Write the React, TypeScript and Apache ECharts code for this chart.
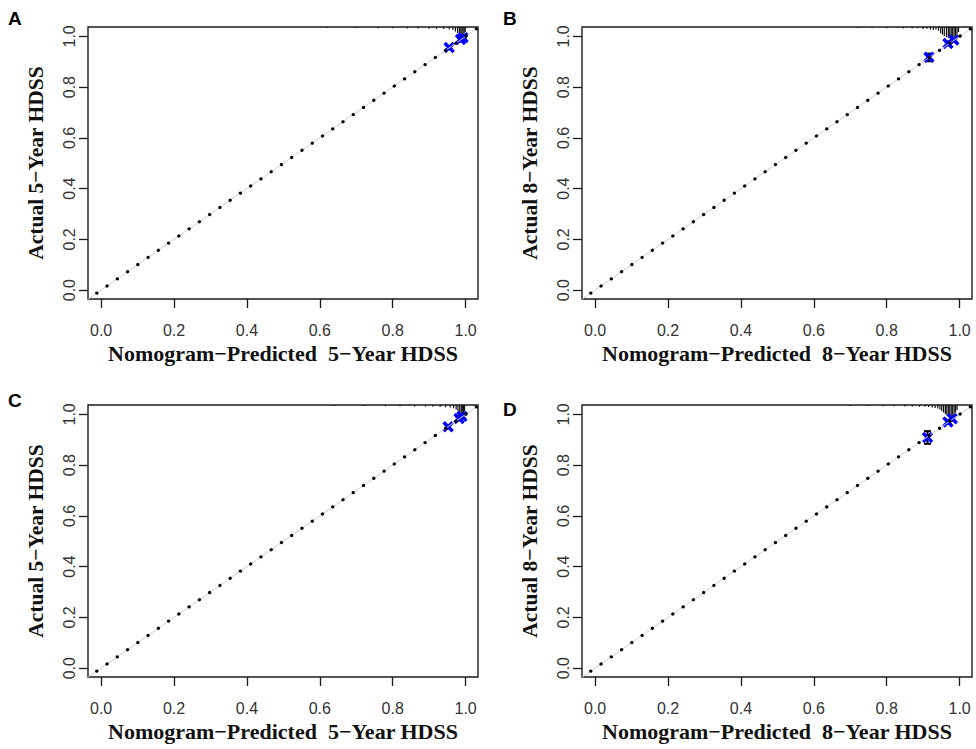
import React, { useEffect, useRef } from "react";
import * as echarts from "echarts";

const xTicks = [0, 0.2, 0.4, 0.6, 0.8, 1.0];
const yTicks = [0, 0.2, 0.4, 0.6, 0.8, 1.0];
const panelLetters = ["A", "B", "C", "D"];
const xTitles = [
  "Nomogram\u2212Predicted  5\u2212Year HDSS",
  "Nomogram\u2212Predicted  8\u2212Year HDSS",
  "Nomogram\u2212Predicted  5\u2212Year HDSS",
  "Nomogram\u2212Predicted  8\u2212Year HDSS",
];
const yTitles = [
  "Actual 5\u2212Year HDSS",
  "Actual 8\u2212Year HDSS",
  "Actual 5\u2212Year HDSS",
  "Actual 8\u2212Year HDSS",
];

// calibration points: predicted, observed, lower, upper
const predA = [0.955, 0.986, 0.993];
const obsA = [0.956, 0.988, 0.995];
const lowA = [0.949, 0.982, 0.989];
const highA = [0.962, 0.994, 0.999];

const predB = [0.916, 0.968, 0.984];
const obsB = [0.918, 0.972, 0.986];
const lowB = [0.902, 0.964, 0.979];
const highB = [0.932, 0.98, 0.993];

const predC = [0.952, 0.982, 0.99];
const obsC = [0.951, 0.984, 0.992];
const lowC = [0.944, 0.978, 0.986];
const highC = [0.958, 0.99, 0.997];

const predD = [0.912, 0.968, 0.98];
const obsD = [0.909, 0.97, 0.983];
const lowD = [0.884, 0.962, 0.975];
const highD = [0.934, 0.978, 0.99];

// rug of predicted risks at the top (position, spike length)
const rugAx = [0.62, 0.7, 0.76, 0.8, 0.84, 0.87, 0.9, 0.92, 0.94, 0.955, 0.965, 0.972, 0.978, 0.983, 0.987, 0.99, 0.993, 0.996, 0.999];
const rugAh = [0.004, 0.004, 0.005, 0.005, 0.006, 0.006, 0.007, 0.008, 0.008, 0.01, 0.012, 0.018, 0.024, 0.03, 0.04, 0.045, 0.035, 0.026, 0.02];

const rugBx = [0.72, 0.76, 0.8, 0.83, 0.845, 0.87, 0.885, 0.9, 0.91, 0.92, 0.928, 0.935, 0.942, 0.948, 0.953, 0.958, 0.964, 0.969, 0.973, 0.977, 0.981, 0.985, 0.989, 0.993, 0.997];
const rugBh = [0.004, 0.004, 0.005, 0.004, 0.006, 0.006, 0.005, 0.008, 0.007, 0.01, 0.012, 0.01, 0.015, 0.025, 0.03, 0.035, 0.04, 0.042, 0.04, 0.045, 0.04, 0.045, 0.04, 0.03, 0.02];

const rugCx = [0.64, 0.72, 0.78, 0.82, 0.86, 0.89, 0.91, 0.93, 0.945, 0.958, 0.967, 0.974, 0.979, 0.984, 0.988, 0.991, 0.994, 0.997];
const rugCh = [0.004, 0.004, 0.005, 0.005, 0.006, 0.006, 0.007, 0.008, 0.009, 0.01, 0.013, 0.018, 0.025, 0.032, 0.042, 0.045, 0.035, 0.025];

const rugDx = [0.7, 0.75, 0.79, 0.82, 0.85, 0.87, 0.89, 0.905, 0.915, 0.925, 0.933, 0.94, 0.946, 0.951, 0.956, 0.961, 0.965, 0.969, 0.973, 0.977, 0.981, 0.985, 0.989, 0.993];
const rugDh = [0.004, 0.004, 0.005, 0.005, 0.006, 0.006, 0.007, 0.007, 0.008, 0.01, 0.012, 0.014, 0.018, 0.024, 0.03, 0.035, 0.04, 0.042, 0.045, 0.042, 0.045, 0.04, 0.03, 0.02];

const X_MIN = -0.036;
const X_MAX = 1.034;
const Y_MIN = -0.035;
const Y_MAX = 1.037;

const gridPos = [
  { left: 88, top: 27 },
  { left: 582, top: 27 },
  { left: 88, top: 405 },
  { left: 582, top: 405 },
];
const letterPos = [
  { left: 8, top: 9 },
  { left: 503, top: 9 },
  { left: 8, top: 391 },
  { left: 503, top: 400 },
];

const calib = [
  [predA, obsA, lowA, highA],
  [predB, obsB, lowB, highB],
  [predC, obsC, lowC, highC],
  [predD, obsD, lowD, highD],
];
const rugs = [
  [rugAx, rugAh],
  [rugBx, rugBh],
  [rugCx, rugCh],
  [rugDx, rugDh],
];

function buildOption() {
  const grids: any[] = [];
  const xAxes: any[] = [];
  const yAxes: any[] = [];
  const series: any[] = [];
  const graphics: any[] = [];
  for (let i = 0; i < 4; i++) {
    grids.push({
      left: gridPos[i].left,
      top: gridPos[i].top,
      width: 390,
      height: 272,
      show: true,
      borderColor: "#1a1a1a",
      borderWidth: 1.4,
      backgroundColor: "transparent",
    });
    xAxes.push({
      gridIndex: i,
      type: "value",
      min: X_MIN,
      max: X_MAX,
      axisLine: { show: false, onZero: false },
      splitLine: { show: false },
      axisTick: { show: true, length: 9, customValues: xTicks, lineStyle: { color: "#1a1a1a", width: 1.3 } },
      axisLabel: {
        customValues: xTicks,
        formatter: (v: number) => v.toFixed(1),
        margin: 23,
        fontSize: 16,
        fontFamily: "Liberation Sans, Arial",
        color: "#333",
      },
      name: xTitles[i],
      nameLocation: "middle",
      nameGap: 43,
      nameTextStyle: {
        fontFamily: "Liberation Serif, Times New Roman",
        fontWeight: "bold",
        fontSize: 22,
        color: "#111",
      },
    });
    yAxes.push({
      gridIndex: i,
      type: "value",
      min: Y_MIN,
      max: Y_MAX,
      axisLine: { show: false, onZero: false },
      splitLine: { show: false },
      axisTick: { show: true, length: 9, customValues: yTicks, lineStyle: { color: "#1a1a1a", width: 1.3 } },
      axisLabel: {
        customValues: yTicks,
        formatter: (v: number) => v.toFixed(1),
        rotate: 90,
        margin: 11,
        fontSize: 16,
        fontFamily: "Liberation Sans, Arial",
        color: "#333",
      },
      name: yTitles[i],
      nameLocation: "middle",
      nameGap: 41,
      nameTextStyle: {
        fontFamily: "Liberation Serif, Times New Roman",
        fontWeight: "bold",
        fontSize: 21.5,
        color: "#111",
      },
    });
    // faint ideal line
    series.push({
      type: "line",
      xAxisIndex: i,
      yAxisIndex: i,
      data: [[X_MIN, X_MIN], [X_MAX, X_MAX]],
      symbol: "none",
      silent: true,
      lineStyle: { color: "#cfcfcf", width: 1 },
    });
    // dotted diagonal
    series.push({
      type: "line",
      xAxisIndex: i,
      yAxisIndex: i,
      data: [[-0.012, -0.012], [1.034, 1.034]],
      symbol: "none",
      silent: true,
      lineStyle: { color: "#000", width: 3.2, type: [0.1, 12.4], cap: "round" },
    });
    // rug spikes
    const [rx, rh] = rugs[i];
    series.push({
      type: "custom",
      xAxisIndex: i,
      yAxisIndex: i,
      silent: true,
      data: rx.map((x, k) => [x, rh[k]]),
      renderItem: (params: any, api: any) => {
        const x = api.value(0);
        const h = api.value(1);
        const p1 = api.coord([x, Y_MAX]);
        const p2 = api.coord([x, Y_MAX - h]);
        return {
          type: "line",
          shape: { x1: p1[0], y1: p1[1], x2: p2[0], y2: p2[1] },
          style: { stroke: "#111", lineWidth: 1.2 },
        };
      },
    });
    // error bars + blue crosses
    const [pr, ob, lo, hi] = calib[i];
    series.push({
      type: "custom",
      xAxisIndex: i,
      yAxisIndex: i,
      silent: true,
      data: pr.map((p, k) => [p, ob[k], lo[k], hi[k]]),
      renderItem: (params: any, api: any) => {
        const x = api.value(0);
        const c = api.coord([x, api.value(1)]);
        const a = api.coord([x, api.value(2)]);
        const b = api.coord([x, api.value(3)]);
        const w = 3.5;
        const s = 4.5;
        const blk = { stroke: "#000", lineWidth: 2 };
        const blu = { stroke: "#0000ff", lineWidth: 3.4 };
        return {
          type: "group",
          children: [
            { type: "line", shape: { x1: a[0], y1: a[1], x2: b[0], y2: b[1] }, style: blk },
            { type: "line", shape: { x1: a[0] - w, y1: a[1], x2: a[0] + w, y2: a[1] }, style: blk },
            { type: "line", shape: { x1: b[0] - w, y1: b[1], x2: b[0] + w, y2: b[1] }, style: blk },
            { type: "line", shape: { x1: c[0] - s, y1: c[1] - s, x2: c[0] + s, y2: c[1] + s }, style: blu },
            { type: "line", shape: { x1: c[0] - s, y1: c[1] + s, x2: c[0] + s, y2: c[1] - s }, style: blu },
          ],
        };
      },
    });
    graphics.push({
      type: "text",
      left: letterPos[i].left,
      top: letterPos[i].top,
      style: {
        text: panelLetters[i],
        font: "bold 19px 'Liberation Sans', Arial",
        fill: "#000",
      },
    });
  }
  return {
    animation: false,
    backgroundColor: "#fff",
    grid: grids,
    xAxis: xAxes,
    yAxis: yAxes,
    series,
    graphic: graphics,
  };
}

export default function App() {
  const ref = useRef<HTMLDivElement>(null);
  useEffect(() => {
    if (!ref.current) return;
    const chart = echarts.init(ref.current, null, { renderer: "svg" });
    chart.setOption(buildOption() as any);
    return () => chart.dispose();
  }, []);
  return <div ref={ref} style={{ width: 976, height: 749, position: "absolute", left: 0, top: 0 }} />;
}
